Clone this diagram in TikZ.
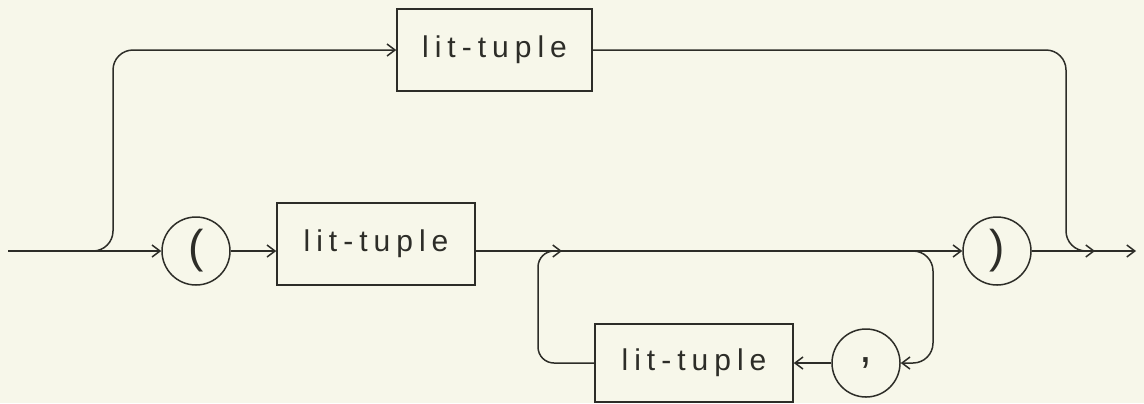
\documentclass[tikz,border=0pt]{standalone}
\usepackage{fontspec}
\setmainfont{Liberation Sans}[LetterSpace=20]
\usetikzlibrary{arrows.meta}
\tikzset{>={Straight Barb[length=4pt,width=6pt]}}
\definecolor{mycream}{RGB}{247,247,234}
\definecolor{myink}{RGB}{45,45,40}
\tikzset{
  terminal/.style = {draw = myink, circle, minimum size = 34pt, inner sep = 0pt, font = \fontsize{23}{23}\selectfont},
  nonterm/.style = {draw = myink, rectangle, minimum width = 99pt, minimum height = 41pt, inner sep = 0pt, font = \fontsize{15}{15}\selectfont}
}
\begin{document}
\begin{tikzpicture}[x = 0.5pt, y = -0.5pt, line width = 0.75pt, draw = myink, text = myink]
\fill[mycream] (0,0) rectangle (1144,403);
\useasboundingbox (0,0) rectangle (1144,403);
\node[terminal] (lparen) at (196,251) {(};
\node[nonterm] (lit) at (376,244) {lit-tuple};
\node[terminal] (rparen) at (997,251) {)};
\node[nonterm, minimum width = 97.5pt] (top) at (494.5,50) {lit-tuple};
\node[nonterm, minimum height = 39pt] (rep) at (694,363) {lit-tuple};
\node[terminal] (comma) at (866,363) {,};
\coordinate (start) at (8,251);
\coordinate (split) at (80,251);
\coordinate (join) at (1095,251);
\coordinate (stop) at (1136,251);
\coordinate (fork) at (895,251);
\coordinate (merge) at (562,251);
\draw[->] (start) -- (lparen);
\draw[->] (lparen) -- (lparen -| lit.west);
\draw[->] (lit.east |- lparen) -- (rparen);
\draw[->] (rparen) -- (stop);
\draw[->, rounded corners = 10pt] (split) -| (113,50) -- (top);
\draw[->, rounded corners = 10pt] (top) -| (1066,251) -- (join);
\draw[->, rounded corners = 10pt] (fork) -| (933,363) -- (comma);
\draw[->] (comma) -- (rep);
\draw[->, rounded corners = 8pt] (rep) -| (538,251) -- (merge);
\end{tikzpicture}
\end{document}
